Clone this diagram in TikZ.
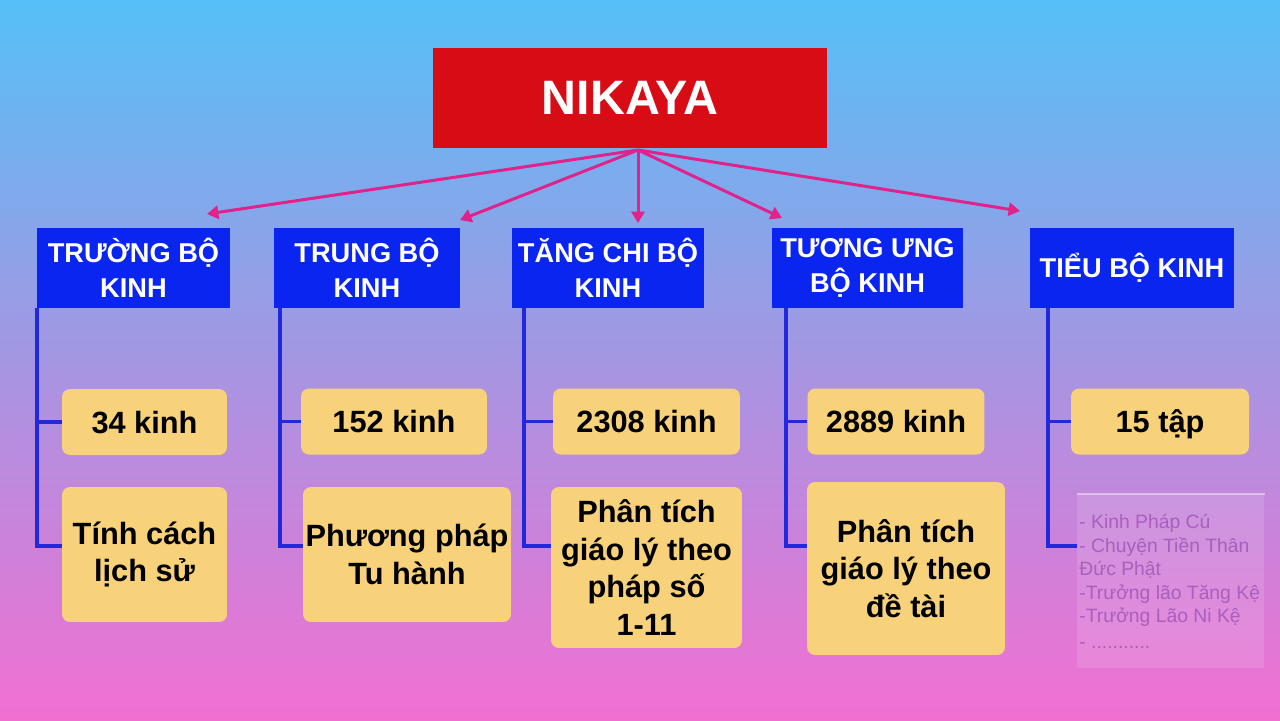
\documentclass[tikz,border=0pt]{standalone}
\usepackage{fontspec}
\setmainfont{Liberation Sans}
\usepackage{tikz}
\usetikzlibrary{arrows.meta}
\usetikzlibrary{positioning}
\definecolor{topsky}{HTML}{55C0F7}
\definecolor{midlilac}{HTML}{A596E2}
\definecolor{botpink}{HTML}{F26FD2}
\definecolor{nikred}{HTML}{D70C15}
\definecolor{sectblue}{HTML}{0B25F0}
\definecolor{lineblue}{HTML}{2229DA}
\definecolor{infoyellow}{HTML}{F8D27A}
\definecolor{arrowpink}{HTML}{E1228A}
\definecolor{fadetext}{HTML}{A85FBE}
\tikzstyle{title} = [rectangle, fill = nikred, text = white, inner sep = 0pt, font = \bfseries\fontsize{27.5}{30}\selectfont]
\tikzstyle{sect} = [rectangle, fill = sectblue, text = white, inner sep = 0pt, minimum height = 1.6cm, align = center, font = \bfseries\fontsize{15.5}{19.6}\selectfont]
\tikzstyle{info} = [rectangle, rounded corners = 4.5pt, fill = infoyellow, inner sep = 0pt, align = center, font = \bfseries\fontsize{17.5}{21.5}\selectfont]
\tikzstyle{count} = [info, minimum height = 1.32cm, text height = 12.8pt, text depth = 0pt]
\tikzstyle{faded} = [rectangle, fill = white, fill opacity = 0.13, inner sep = 0pt]
\tikzstyle{arrow} = [line width = 1.7pt, arrowpink, -{Triangle[length = 6.5pt, width = 7.5pt]}]
\tikzstyle{branch} = [line width = 1.8pt, lineblue]

\begin{document}
\begin{tikzpicture}[x = 0.02cm, y = -0.02cm]

		% Background
		\fill[top color = topsky, bottom color = botpink, middle color = midlilac] (0, 0) rectangle (1280, 720);
		\useasboundingbox (0, 0) rectangle (1280, 720);

		% Root
		\node[title, minimum width = 7.88cm, minimum height = 2.0cm] (nik) at (630, 98) {NIKAYA};
		\coordinate (bnik) at (638, 150);

		% Sections
		\node[sect, minimum width = 3.86cm] (s1) at (133.5, 268) {TRƯỜNG BỘ\\KINH};
		\node[sect, minimum width = 3.72cm] (s2) at (367, 268) {TRUNG BỘ\\KINH};
		\node[sect, minimum width = 3.84cm] (s3) at (608, 268) {TĂNG CHI BỘ\\KINH};
		\node[sect, minimum width = 3.82cm] (s4) at (867.5, 268) {TƯƠNG ƯNG\\BỘ KINH};
		\node[sect, minimum width = 4.08cm] (s5) at (1132, 268) {TIỂU BỘ KINH};
		\coordinate (as1) at (207, 214);
		\coordinate (as2) at (460, 220);
		\coordinate (as3) at (638, 223);
		\coordinate (as4) at (782, 218);
		\coordinate (as5) at (1020, 211);

		% Counts
		\node[count, minimum width = 3.30cm] (a1) at (144.5, 422) {34 kinh};
		\node[count, minimum width = 3.72cm] (a2) at (394, 421.5) {152 kinh};
		\node[count, minimum width = 3.74cm] (a3) at (646.5, 421.5) {2308 kinh};
		\node[count, minimum width = 3.54cm] (a4) at (896, 421.5) {2889 kinh};
		\node[count, minimum width = 3.56cm] (a5) at (1160, 421.5) {15 tập};

		% Contents
		\node[info, minimum width = 3.30cm, minimum height = 2.70cm] (b1) at (144.5, 554.5) {Tính cách\\lịch sử};
		\node[info, minimum width = 4.16cm, minimum height = 2.70cm] (b2) at (407, 554.5) {Phương pháp\\Tu hành};
		\node[info, minimum width = 3.82cm, minimum height = 3.22cm] (b3) at (646.5, 567.5) {Phân tích\\giáo lý theo\\pháp số\\1-11};
		\node[info, minimum width = 3.96cm, minimum height = 3.46cm] (b4) at (906, 568.5) {Phân tích\\giáo lý theo\\đề tài};
		\node[faded, minimum width = 3.74cm, minimum height = 3.48cm, anchor = north west] (b5) at (1077, 494) {};
		\draw[white, opacity = 0.45, line width = 0.6pt] (b5.north west) -- (b5.north east);
		\node[text = fadetext, align = left, anchor = north west, inner sep = 0pt, font = \fontsize{11}{13.4}\selectfont] (b5t) at (1079, 514) {- Kinh Pháp Cú\\- Chuyện Tiền Thân\\Đức Phật\\-Trưởng lão Tăng Kệ\\-Trưởng Lão Ni Kệ\\[1pt]- ...........};

		% Branch lines
		\coordinate (low) at (0, 546);
		\coordinate (bs1) at (37, 308);
		\coordinate (bs2) at (280, 308);
		\coordinate (bs3) at (524, 308);
		\coordinate (bs4) at (786, 308);
		\coordinate (bs5) at (1048, 308);
		\draw[branch] (bs1) |- (b1.west |- low);
		\draw[branch] (bs1 |- a1.west) -- (a1.west);
		\draw[branch] (bs2) |- (b2.west |- low);
		\draw[branch] (bs2 |- a2.west) -- (a2.west);
		\draw[branch] (bs3) |- (b3.west |- low);
		\draw[branch] (bs3 |- a3.west) -- (a3.west);
		\draw[branch] (bs4) |- (b4.west |- low);
		\draw[branch] (bs4 |- a4.west) -- (a4.west);
		\draw[branch] (bs5) |- (b5.west |- low);
		\draw[branch] (bs5 |- a5.west) -- (a5.west);

		% Connect root to sections
		\draw[arrow] (bnik) -- (as1);
		\draw[arrow] (bnik) -- (as2);
		\draw[arrow] (bnik) -- (as3);
		\draw[arrow] (bnik) -- (as4);
		\draw[arrow] (bnik) -- (as5);

	\end{tikzpicture}
\end{document}
